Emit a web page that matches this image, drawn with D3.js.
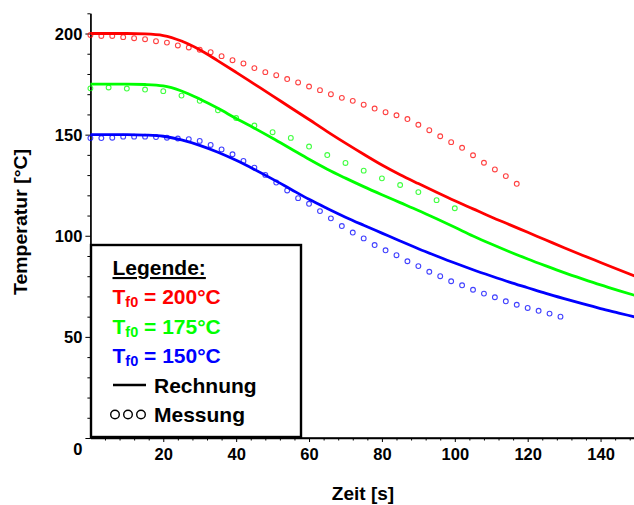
<!DOCTYPE html>
<html>
<head>
<meta charset="utf-8">
<script src="https://cdn.jsdelivr.net/npm/d3@7/dist/d3.min.js"></script>
<style>
  html, body { margin: 0; padding: 0; background: #fff; }
  svg { display: block; font-family: "Liberation Sans", Arial, sans-serif; font-weight: bold; }
</style>
</head>
<body>
<svg id="chart" width="634" height="505"></svg>
<script>
// ---------- data ----------
// calculated curves (Rechnung)
const calcTime = [0, 5, 10, 15, 20, 25, 30, 35, 40, 45, 50, 55, 60, 65, 70, 75, 80, 85, 90, 95, 100, 105, 110, 115, 120, 125, 130, 135, 140, 145, 150];
const calcRed   = [200, 200, 200, 199.8, 199, 196.3, 192, 186.5, 180.8, 175, 169.2, 163.3, 157.5, 151.5, 145.8, 140.3, 135, 130.2, 125.8, 121.5, 117.3, 113.3, 109.3, 105.5, 101.7, 97.9, 94.1, 90.4, 86.8, 83.2, 79.7];
const calcGreen = [175, 175, 175, 174.8, 174.1, 171.6, 167.6, 163, 158, 153.2, 148.2, 143, 137.8, 132.9, 128.5, 124.3, 120.3, 116.4, 112.5, 108.4, 104.2, 99.9, 95.9, 92.1, 88.5, 85.1, 81.8, 78.7, 75.7, 72.9, 70.2];
const calcBlue  = [150, 150, 150, 149.8, 149.2, 147.4, 144.7, 141.3, 137.3, 132.8, 128, 123, 118, 113.5, 109.2, 105.2, 101.3, 97.4, 93.6, 90, 86.5, 83.2, 80.1, 77.1, 74.3, 71.5, 68.9, 66.4, 64, 61.8, 59.6];

// measured points (Messung)
const measTimeRed = [0, 3, 6, 9, 12, 15, 18, 21, 24, 27, 30, 33, 36, 39, 42, 45, 48, 51, 54, 57, 60, 63, 66, 69, 72, 75, 78, 81, 84, 87, 90, 93, 96, 99, 102, 105, 108, 111, 114, 117];
const measRed = [199.3, 198.8, 198.8, 198.2, 197.7, 197.2, 196.2, 195.5, 194.1, 193.1, 192, 190.8, 188.8, 186.8, 185.2, 182.9, 180.9, 179.4, 177.5, 175.8, 173.8, 172, 170, 168.2, 166.7, 164.8, 162.9, 161.1, 159.6, 157.7, 154.9, 152.2, 149.2, 146.3, 143.5, 139.8, 136.1, 132.8, 129.5, 125.7];

const measTimeGreen = [0, 5, 10, 15, 20, 25, 30, 35, 40, 45, 50, 55, 60, 65, 70, 75, 80, 85, 90, 95, 100];
const measGreen = [172.9, 173.3, 172.8, 172.3, 171.5, 169.3, 166.7, 162, 158.2, 154.5, 151.2, 148.4, 144.1, 139.9, 136, 132.2, 128.4, 125.1, 121.6, 117.6, 113.6];

const measTimeBlue = [0, 3, 6, 9, 12, 15, 18, 21, 24, 27, 30, 33, 36, 39, 42, 45, 48, 51, 54, 57, 60, 63, 66, 69, 72, 75, 78, 81, 84, 87, 90, 93, 96, 99, 102, 105, 108, 111, 114, 117, 120, 123, 126, 129];
const measBlue = [148.3, 148.3, 148.5, 149, 149, 149, 148.8, 148.5, 148.1, 147.8, 146.9, 144.9, 142.7, 140.3, 137, 133.7, 130.1, 126.3, 122.4, 118.6, 115.8, 112.2, 108.6, 104.8, 101.6, 98.7, 95.4, 92.8, 90.4, 87.4, 85, 82.2, 80, 77.5, 75.5, 73.3, 71.4, 69.6, 67.6, 65.9, 64.3, 62.9, 61.5, 60];

const yMajorTicks = [0, 50, 100, 150, 200];
const yMinorTicks = [10, 20, 30, 40, 60, 70, 80, 90, 110, 120, 130, 140, 160, 170, 180, 190, 210];
const xMajorTicks = [20, 40, 60, 80, 100, 120, 140];
const xMinorTicks = [4, 8, 12, 16, 24, 28, 32, 36, 44, 48, 52, 56, 64, 68, 72, 76, 84, 88, 92, 96, 104, 108, 112, 116, 124, 128, 132, 136, 144, 148];

const seriesColors = ["#ff0000", "#00ff00", "#0000ff"];

// ---------- scales ----------
const svg = d3.select("#chart");
const x = d3.scaleLinear().domain([0, 150]).range([90.4, 637]);
const y = d3.scaleLinear().domain([0, 210]).range([438, 13.3]);

// ---------- axes ----------
const axisStyle = g => {
  g.select(".domain").attr("stroke", "#000").attr("stroke-width", 1.3);
  g.selectAll(".tick line").attr("stroke", "#000").attr("stroke-width", 1);
};

// y axis
svg.append("g").attr("transform", `translate(${x(0)},0)`)
  .call(d3.axisLeft(y).tickValues(yMinorTicks).tickSize(3).tickFormat("").tickSizeOuter(0))
  .call(axisStyle);
const yAx = svg.append("g").attr("transform", `translate(${x(0)},0)`)
  .call(d3.axisLeft(y).tickValues(yMajorTicks).tickSize(5).tickPadding(3).tickSizeOuter(0))
  .call(axisStyle);
yAx.selectAll(".tick text")
  .attr("fill", "#000").attr("font-size", 16.5).attr("font-weight", "bold")
  .attr("font-family", "'Liberation Sans', Arial, sans-serif")
  .attr("dy", d => d === 0 ? "1.0em" : "0.36em");

// x axis
svg.append("g").attr("transform", `translate(0,${y(0)})`)
  .call(d3.axisBottom(x).tickValues(xMinorTicks).tickSize(2.5).tickFormat("").tickSizeOuter(0))
  .call(axisStyle);
const xAx = svg.append("g").attr("transform", `translate(0,${y(0)})`)
  .call(d3.axisBottom(x).tickValues(xMajorTicks).tickSize(4).tickPadding(6).tickSizeOuter(0))
  .call(axisStyle);
xAx.select(".domain").attr("d", `M${x(0)},0H634`);
xAx.selectAll(".tick text")
  .attr("fill", "#000").attr("font-size", 16.5).attr("font-weight", "bold")
  .attr("font-family", "'Liberation Sans', Arial, sans-serif");

// axis titles
svg.append("text")
  .attr("transform", "translate(27,222) rotate(-90)")
  .attr("text-anchor", "middle")
  .attr("font-size", 18.5)
  .attr("textLength", 146).attr("lengthAdjust", "spacingAndGlyphs")
  .text("Temperatur [°C]");
svg.append("text")
  .attr("x", 363).attr("y", 500)
  .attr("text-anchor", "middle")
  .attr("font-size", 19)
  .text("Zeit [s]");

// ---------- lines ----------
const calcSeries = [calcRed, calcGreen, calcBlue];
const line = d3.line().x(d => x(d[0])).y(d => y(d[1])).curve(d3.curveMonotoneX);
calcSeries.forEach((vals, i) => {
  svg.append("path")
    .datum(calcTime.map((t, k) => [t, vals[k]]))
    .attr("fill", "none")
    .attr("stroke", seriesColors[i])
    .attr("stroke-width", 2.8)
    .attr("d", line);
});

// ---------- measured points ----------
const measSeries = [[measTimeRed, measRed], [measTimeGreen, measGreen], [measTimeBlue, measBlue]];
measSeries.forEach(([ts, vals], i) => {
  svg.append("g").selectAll("circle")
    .data(ts.map((t, k) => [t, vals[k]]))
    .join("circle")
    .attr("cx", d => x(d[0]))
    .attr("cy", d => y(d[1]))
    .attr("r", 2.4)
    .attr("fill", "none")
    .attr("stroke", seriesColors[i])
    .attr("stroke-opacity", 0.75)
    .attr("stroke-width", 1.1);
});

// ---------- legend ----------
const lg = svg.append("g");
lg.append("rect")
  .attr("x", 91).attr("y", 245).attr("width", 210).attr("height", 192)
  .attr("fill", "#fff").attr("stroke", "#000").attr("stroke-width", 2.4);

lg.append("text").attr("x", 112.5).attr("y", 275).attr("font-size", 21)
  .attr("text-decoration", "underline").text("Legende:");

const legendVals = ["200", "175", "150"];
const legendY = [304, 333.5, 363];
legendVals.forEach((v, i) => {
  const t = lg.append("text").attr("x", 112.5).attr("y", legendY[i])
    .attr("font-size", 21).attr("fill", seriesColors[i]);
  t.append("tspan").text("T");
  t.append("tspan").attr("font-size", 14.5).attr("dy", 3).text("f0");
  t.append("tspan").attr("dy", -3).text(` = ${v}°C`);
});

lg.append("line").attr("x1", 113).attr("x2", 146).attr("y1", 385).attr("y2", 385)
  .attr("stroke", "#000").attr("stroke-width", 2.6);
lg.append("text").attr("x", 154).attr("y", 392.5).attr("font-size", 21).text("Rechnung");

[115, 128, 141].forEach(cx => {
  lg.append("circle").attr("cx", cx).attr("cy", 414.5).attr("r", 4.3)
    .attr("fill", "none").attr("stroke", "#000").attr("stroke-width", 1.4);
});
lg.append("text").attr("x", 154).attr("y", 421.5).attr("font-size", 21).text("Messung");
</script>
</body>
</html>
